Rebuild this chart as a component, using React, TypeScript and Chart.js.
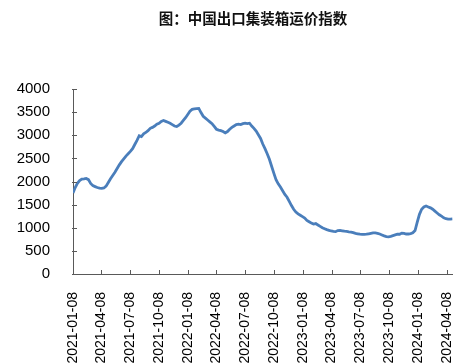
import React, { useEffect, useRef } from "react";
import { Chart, registerables } from "chart.js";

Chart.register(...registerables);

const TITLE = "图：中国出口集装箱运价指数";
const START_DATE = "2021-01-08";
const TICK_LABELS = [
  "2021-01-08", "2021-04-08", "2021-07-08", "2021-10-08",
  "2022-01-08", "2022-04-08", "2022-07-08", "2022-10-08",
  "2023-01-08", "2023-04-08", "2023-07-08", "2023-10-08",
  "2024-01-08", "2024-04-08",
];
const Y_MIN = 0;
const Y_MAX = 4000;
const Y_STEP = 500;

// Weekly CCFI composite index, from 2021-01-08
const CCFI_2021 = [
  1750, 1870, 1960, 2020, 2050, 2055, 2065, 2040, 1960, 1910, 1890, 1870, 1855,
  1850, 1860, 1900, 1980, 2060, 2130, 2200, 2280, 2360, 2430, 2490, 2550, 2600,
  2650, 2710, 2800, 2890, 2990, 2970, 3030, 3060, 3100, 3150, 3170, 3200, 3240,
  3260, 3300, 3320, 3300, 3280, 3260, 3230, 3200, 3190, 3220, 3260, 3320, 3380,
];
const CCFI_2022 = [
  3450, 3520, 3560, 3570, 3575, 3580, 3490, 3410, 3370, 3330, 3290, 3250, 3190,
  3130, 3110, 3100, 3080, 3050, 3080, 3130, 3170, 3200, 3230, 3240, 3230, 3250,
  3260, 3250, 3260, 3200, 3150, 3090, 3010, 2930, 2810, 2710, 2600, 2480, 2330,
  2180, 2040, 1950, 1880, 1800, 1720, 1660, 1570, 1480, 1400, 1340, 1300, 1270,
];
const CCFI_2023 = [
  1240, 1210, 1160, 1130, 1100, 1080, 1090, 1060, 1030, 1000, 980, 960, 945,
  930, 920, 915, 940, 945, 935, 925, 920, 910, 905, 895, 880, 870,
  860, 855, 855, 860, 870, 880, 890, 890, 880, 865, 845, 825, 810,
  805, 815, 830, 845, 860, 860, 885, 880, 865, 865, 875, 890, 940,
];
const CCFI_2024 = [
  1120, 1290, 1400, 1450, 1470, 1450, 1430, 1400, 1360, 1320, 1280, 1250, 1215,
  1195, 1185, 1185, 1190,
];
const CCFI = [...CCFI_2021, ...CCFI_2022, ...CCFI_2023, ...CCFI_2024];

const DAY_MS = 86400000;
const startMs = Date.parse(START_DATE);
const dayOf = (s: string) => Math.round((Date.parse(s) - startMs) / DAY_MS);
const TICK_DAYS = TICK_LABELS.map(dayOf);
const POINTS = CCFI.map((v, i) => ({ x: i * 7, y: v }));

const AXIS_COLOR = "#595959";
const LINE_COLOR = "#4A7EBB";

const decorPlugin = {
  id: "decor",
  afterDraw(chart: any) {
    const ctx = chart.ctx;
    const xs = chart.scales.x;
    const ys = chart.scales.y;
    const area = chart.chartArea;
    ctx.save();
    ctx.strokeStyle = AXIS_COLOR;
    ctx.lineWidth = 1;
    ctx.beginPath();
    for (const d of TICK_DAYS) {
      const px = Math.round(xs.getPixelForValue(d)) + 0.5;
      ctx.moveTo(px, area.bottom);
      ctx.lineTo(px, area.bottom - 4);
    }
    for (let v = Y_MIN; v <= Y_MAX; v += Y_STEP) {
      const py = Math.round(ys.getPixelForValue(v)) + 0.5;
      ctx.moveTo(area.left - 1, py);
      ctx.lineTo(area.left + 4, py);
    }
    ctx.stroke();
    ctx.fillStyle = "#111";
    ctx.font = 'bold 14.5px "Noto Sans CJK SC"';
    ctx.textAlign = "center";
    ctx.textBaseline = "middle";
    ctx.fillText(TITLE, 253, 18);
    ctx.restore();
  },
};

export default function App() {
  const ref = useRef<HTMLCanvasElement | null>(null);
  useEffect(() => {
    if (!ref.current) return;
    const chart = new Chart(ref.current, {
      type: "line",
      data: {
        datasets: [
          {
            label: "CCFI",
            data: POINTS,
            borderColor: LINE_COLOR,
            borderWidth: 2.8,
            pointRadius: 0,
            tension: 0,
            fill: false,
          },
        ],
      },
      options: {
        responsive: false,
        animation: false,
        layout: { padding: { top: 89, right: 21, left: 0, bottom: 0 } },
        plugins: {
          legend: { display: false },
          title: { display: false },
          tooltip: { enabled: false },
        },
        scales: {
          x: {
            type: "linear",
            min: 0,
            max: (CCFI.length - 1) * 7,
            grid: { display: false },
            border: { display: true, color: AXIS_COLOR, width: 1 },
            afterBuildTicks: (scale: any) => {
              scale.ticks = TICK_DAYS.map((v) => ({ value: v }));
            },
            afterFit: (scale: any) => {
              scale.height = 89;
            },
            ticks: {
              autoSkip: false,
              minRotation: 90,
              maxRotation: 90,
              padding: 10,
              color: "#000",
              font: { family: '"Liberation Sans", Arial, sans-serif', size: 14 },
              callback: (value: any) => {
                const i = TICK_DAYS.indexOf(Number(value));
                return i >= 0 ? TICK_LABELS[i] : "";
              },
            },
          },
          y: {
            min: Y_MIN,
            max: Y_MAX,
            grid: { display: false },
            border: { display: true, color: AXIS_COLOR, width: 1 },
            afterFit: (scale: any) => {
              scale.width = 73;
            },
            ticks: {
              stepSize: Y_STEP,
              padding: 15,
              color: "#000",
              font: { family: '"Liberation Sans", Arial, sans-serif', size: 15 },
              callback: (value: any) => String(value),
            },
          },
        },
      },
      plugins: [decorPlugin],
    });
    return () => chart.destroy();
  }, []);
  return (
    <div style={{ position: "fixed", left: 0, top: 0, width: 474, height: 363, background: "#fff" }}>
      <canvas ref={ref} width={474} height={363} />
    </div>
  );
}
